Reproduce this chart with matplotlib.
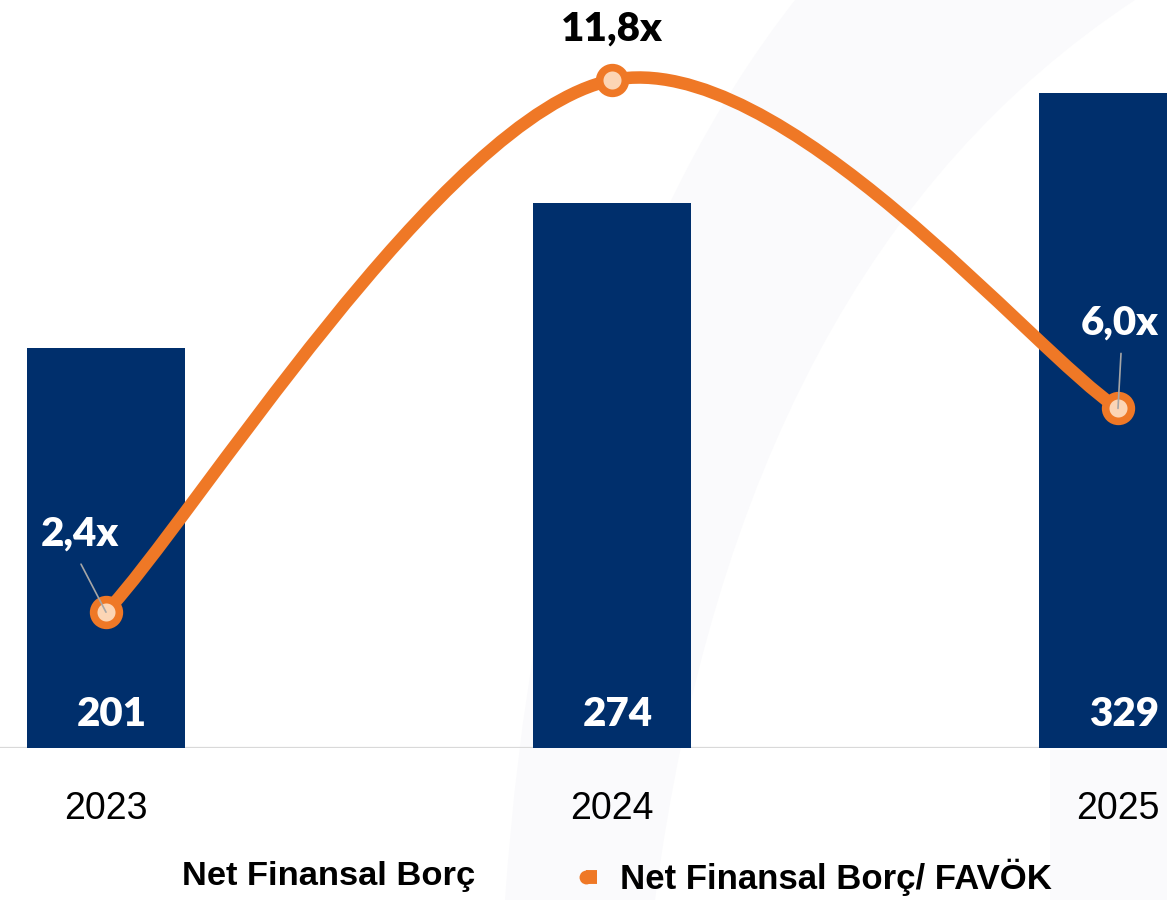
import matplotlib
matplotlib.use("Agg")
import matplotlib.pyplot as plt
from matplotlib.path import Path
from matplotlib.patches import PathPatch
from matplotlib.lines import Line2D
import numpy as np

# ---- data ----
years = ["2023", "2024", "2025"]
net_debt = [201, 274, 329]
ratio = [2.4, 11.8, 6.0]
ratio_labels = ["2,4x", "11,8x", "6,0x"]
legend_labels = ["Net Finansal Borç", "Net Finansal Borç/ FAVÖK"]

NAVY = "#002F6C"
ORANGE = "#EF7826"
PEACH = "#FCD5B5"

W, H = 1167, 900
fig = plt.figure(figsize=(W / 100, H / 100), dpi=100)
fig.patch.set_facecolor("white")

def fx(px):
    return px / W

def fy(py):
    return 1 - py / H

# faint background swoosh (decoration)
verts = [(fx(505), fy(900)), (fx(545), fy(320)), (fx(795), fy(0)),
         (fx(1135), fy(0)), (fx(740), fy(260)), (fx(655), fy(900)),
         (fx(505), fy(900))]
codes = [Path.MOVETO, Path.CURVE3, Path.CURVE3, Path.LINETO,
         Path.CURVE3, Path.CURVE3, Path.CLOSEPOLY]
fig.patches.append(PathPatch(Path(verts, codes), transform=fig.transFigure,
                             facecolor="#FAFAFC", edgecolor="none", zorder=-5))
verts2 = [(fx(1050), fy(900)), (fx(1050), fy(750)), (fx(1167), fy(750)),
          (fx(1167), fy(900)), (fx(1050), fy(900))]
codes2 = [Path.MOVETO, Path.LINETO, Path.LINETO, Path.LINETO, Path.CLOSEPOLY]
fig.patches.append(PathPatch(Path(verts2, codes2), transform=fig.transFigure,
                             facecolor="#FAFAFC", edgecolor="none", zorder=-5))

base_px = 748
ax = fig.add_axes([0, fy(base_px), 1, base_px / H])
ax.patch.set_visible(False)
x = np.arange(len(years))
ax.set_xlim(-106 / 506, 1061 / 506)
ax.set_ylim(0, base_px / 1.99)

ax.bar(x, net_debt, width=158 / 506, color=NAVY, zorder=2)
for xi, v in zip(x, net_debt):
    ax.annotate(str(v), xy=(xi, 0), xytext=(4, 34 * 0.72), textcoords="offset points",
                ha="center", va="center", color="white", fontsize=29,
                fontweight="heavy", family="Lato", zorder=5)

ax.axhline(0, color="#D9D9D9", lw=1.6, zorder=1)
for s in ax.spines.values():
    s.set_visible(False)
ax.set_yticks([])
ax.set_xticks(x)
ax.set_xticklabels(years, fontsize=27, family="Liberation Sans", color="black")
ax.tick_params(axis="x", length=0, pad=31)

ax2 = ax.twinx()
ax2.set_ylim(0, base_px / 56.6)
ax2.set_yticks([])
for s in ax2.spines.values():
    s.set_visible(False)

# smoothed line (Excel-like cubic Bezier)
P = np.column_stack([x, ratio]).astype(float)
n = len(P)
verts = [tuple(P[0])]
codes = [Path.MOVETO]
for i in range(n - 1):
    prev = P[i - 1] if i > 0 else P[i]
    nxt = P[i + 2] if i + 2 < n else P[i + 1]
    c1 = P[i] + (P[i + 1] - prev) / 6
    c2 = P[i + 1] - (nxt - P[i]) / 6
    verts += [tuple(c1), tuple(c2), tuple(P[i + 1])]
    codes += [Path.CURVE4] * 3
ax2.add_patch(PathPatch(Path(verts, codes), facecolor="none", edgecolor=ORANGE,
                        lw=9, capstyle="round", zorder=3))
ax2.plot(x, ratio, linestyle="none", marker="o", markersize=18.5, markeredgewidth=5.5,
         markerfacecolor=PEACH, markeredgecolor=ORANGE, zorder=4)

# ratio labels
offsets = [(-26, 78), (0, 51), (2, 85)]
colors = ["white", "black", "white"]
leaders = [True, False, True]
for xi, v, lab, (dx, dy), c, ld in zip(x, ratio, ratio_labels, offsets, colors, leaders):
    ax2.annotate(lab, xy=(xi, v), xytext=(dx * 0.72, dy * 0.72), textcoords="offset points",
                 ha="center", va="center", color=c, fontsize=29, fontweight="heavy",
                 family="Lato", zorder=6)
    if ld:
        ax2.annotate("", xy=(xi, v), xytext=((dx + 1) * 0.72, (dy - 30) * 0.72),
                     textcoords="offset points",
                     arrowprops=dict(arrowstyle="-", color="#A6A6A6", lw=1.2,
                                     shrinkA=0, shrinkB=0), zorder=6)

# legend
fig.text(fx(182), fy(877), legend_labels[0], fontsize=24.8, fontweight="bold",
         family="Liberation Sans", ha="left", va="center", color="black")
fig.lines.append(Line2D([fx(586), fx(597)], [fy(877), fy(877)], transform=fig.transFigure,
                        color=ORANGE, lw=10, solid_capstyle="butt"))
fig.lines.append(Line2D([fx(586)], [fy(877)], transform=fig.transFigure, marker="o",
                        markersize=10, markeredgewidth=0, color=ORANGE))
fig.text(fx(620), fy(877), legend_labels[1], fontsize=25, fontweight="bold",
         family="Liberation Sans", ha="left", va="center", color="black")

fig.savefig("out.png", dpi=100, facecolor="white")
